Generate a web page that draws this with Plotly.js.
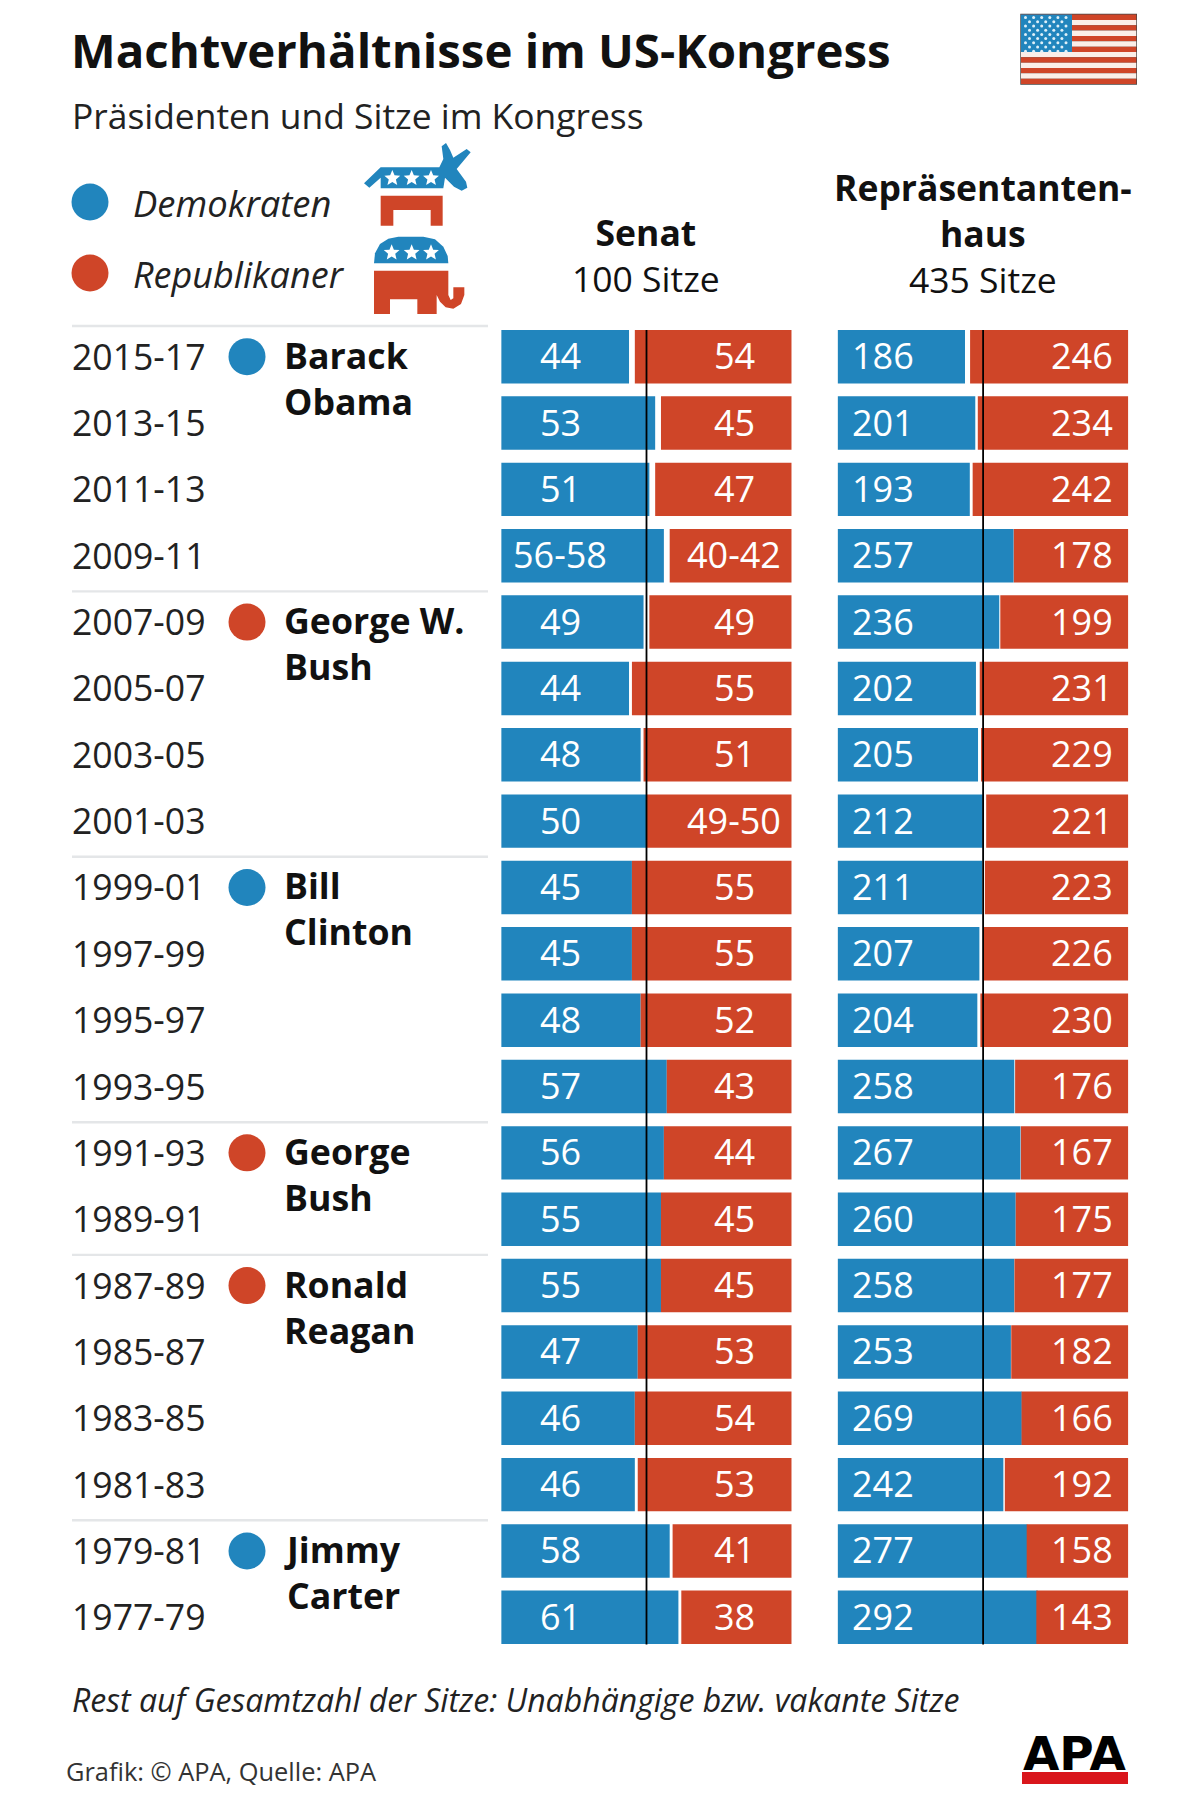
<!DOCTYPE html>
<html><head><meta charset="utf-8">
<script src="https://cdn.plot.ly/plotly-3.0.1.min.js"></script>
<style>html,body{margin:0;padding:0;background:#fff}</style></head>
<body><div id="chart" style="width:1200px;height:1800px"></div>
<script>
// ---------- data ----------
const years = ["2015-17","2013-15","2011-13","2009-11","2007-09","2005-07","2003-05","2001-03","1999-01","1997-99","1995-97","1993-95","1991-93","1989-91","1987-89","1985-87","1983-85","1981-83","1979-81","1977-79"];
const senateDem = [44,53,51,56,49,44,48,50,45,45,48,57,56,55,55,47,46,46,58,61];
const senateRep = [54,45,47,42,49,55,51,50,55,55,52,43,44,45,45,53,54,53,41,38];
const senateDemLabels = ["44","53","51","56-58","49","44","48","50","45","45","48","57","56","55","55","47","46","46","58","61"];
const senateRepLabels = ["54","45","47","40-42","49","55","51","49-50","55","55","52","43","44","45","45","53","54","53","41","38"];
const houseDem = [186,201,193,257,236,202,205,212,211,207,204,258,267,260,258,253,269,242,277,292];
const houseRep = [246,234,242,178,199,231,229,221,223,226,230,176,167,175,177,182,166,192,158,143];
const presidentFirst = ["Barack","George W.","Bill","George","Ronald","Jimmy"];
const presidentLast = ["Obama","Bush","Clinton","Bush","Reagan","Carter"];
const presidentParty = ["D","R","D","R","R","D"];
const presidentStartRow = [0,4,8,12,14,18];

// ---------- style ----------
const BLUE="#2185bd", RED="#cf4528", W=1200, H=1800;
const FONT="'Open Sans', sans-serif";
const px=v=>v/W, py=v=>1-v/H;
const rowTop=323.5, rowStep=66.35;
const rowY=i=>rowTop+rowStep*(i+0.5);

// ---------- traces ----------
const bar=(x,color,xa)=>({type:'bar',orientation:'h',y:years,x:x,xaxis:xa,yaxis:'y',
  width:0.805,marker:{color:color,line:{width:0}},hoverinfo:'skip',showlegend:false});
const dotRows=presidentStartRow.map(r=>years[r]);
const traces=[
  bar(senateDem,BLUE,'x'), bar(senateRep,RED,'x2'),
  bar(houseDem,BLUE,'x3'), bar(houseRep,RED,'x4'),
  {type:'scatter',mode:'markers',xaxis:'x5',yaxis:'y',y:dotRows,x:dotRows.map(()=>247),
   marker:{size:37,color:presidentParty.map(p=>p==='D'?BLUE:RED),line:{width:0}},hoverinfo:'skip',showlegend:false}
];

// ---------- text ----------
const anns=[];
const txt=(text,x,y,size,o={})=>anns.push({text:text,xref:'paper',yref:'paper',x:px(x),y:py(y),
  xanchor:o.anchor||'left',yanchor:'middle',align:o.anchor==='center'?'center':'left',showarrow:false,
  font:{family:o.family||FONT,size:size,color:o.color||'#111',weight:o.weight||400,style:o.style||'normal'}});
txt("Präsidenten und Sitze im Kongress",70,115,35.4,{color:'#222'});
txt("Demokraten",131,203,36.4,{style:'italic',color:'#222'});
txt("Republikaner",131,274,36,{style:'italic',color:'#222'});
txt("<b>Senat</b><br>100 Sitze",646,255,35.5,{anchor:'center',color:'#111'});
txt("<b>Repräsentanten-<br>haus</b><br>435 Sitze",983,233,35.5,{anchor:'center',color:'#111'});
txt("Rest auf Gesamtzahl der Sitze: Unabhängige bzw. vakante Sitze",70,1699,32,{style:'italic',color:'#222'});
txt("Grafik: © APA, Quelle: APA",64,1771,25.4,{color:'#333'});
txt("APA",1075,1753,47,{anchor:'center',family:"'DejaVu Sans', sans-serif",weight:700,color:'#000'});
years.forEach((y,i)=>{
  const c=rowY(i)-1;
  txt(y,70,c,35.6,{color:'#222'});
  txt(senateDemLabels[i],560,c,36,{anchor:'center',color:'#fff'});
  txt(senateRepLabels[i],734,c,36,{anchor:'center',color:'#fff'});
  txt(String(houseDem[i]),850,c,36,{color:'#fff'});
  txt(String(houseRep[i]),1115,c,36,{anchor:'right',color:'#fff'});
});
presidentFirst.forEach((n,k)=>{
  const c=rowY(presidentStartRow[k]);
  txt(n+"<br>"+presidentLast[k],282,c+21,35.7,{weight:700});
});

// ---------- shapes ----------
const shapes=[];
const rect=(x0,y0,x1,y1,color)=>shapes.push({type:'rect',xref:'paper',yref:'paper',x0:px(x0),x1:px(x1),y0:py(y0),y1:py(y1),fillcolor:color,line:{width:0},layer:'above'});
const circ=(cx,cy,r,color)=>shapes.push({type:'circle',xref:'paper',yref:'paper',x0:px(cx-r),x1:px(cx+r),y0:py(cy-r),y1:py(cy+r),fillcolor:color,line:{width:0},layer:'above'});
const poly=(d,color)=>shapes.push({type:'path',xref:'paper',yref:'paper',path:d,fillcolor:color,line:{width:0},layer:'above'});
// converts an icon outline given in local units to paper coordinates
const icon=(cmds,ox,oy,color)=>{
  const d=cmds.map(c=>c[0]+c.slice(1).map((v,j)=>j%2===0?px(ox+v/3):py(oy+v/3)).join(',')).join(' ')+' Z';
  poly(d,color);
};
const star=(cx,cy,r,ox,oy,color)=>{
  const c=[];
  for(let k=0;k<10;k++){const a=-Math.PI/2+k*Math.PI/5,q=k%2?r*0.45:r;c.push([k?'L':'M',cx+q*Math.cos(a),cy+q*Math.sin(a)]);}
  icon(c,ox,oy,color);
};
// separators and mid lines
presidentStartRow.forEach(r=>{const y=rowTop+rowStep*r+2.5;rect(72,y-1.2,488,y+1.2,'#e4e6e8');});
rect(645.6,330,647.4,1644.5,'#000');
rect(982.2,330,984,1644.5,'#000');
// legend
circ(90,202,18.5,BLUE); circ(90,273,18.5,RED);
// flag
rect(1020.3,13.8,1137,84.8,'#444');
const fx0=1021,fx1=1136.3,fy0=14.6,fh=(84-14.6)/13;
for(let s=0;s<13;s++) rect(fx0,fy0+s*fh,fx1,fy0+(s+1)*fh,s%2?'#fbeee8':RED);
rect(fx0,fy0,1072,fy0+7*fh,BLUE);
for(let r=0;r<9;r++){const n=r%2?5:6;for(let c=0;c<n;c++)circ(fx0+4.5+(r%2?4:0)+c*8.1,fy0+3+r*4.2,1.5,'#dff0f8');}
// donkey
icon([['M',42,145],['L',92,97],['L',268,97],['L',280,72],['L',275,34],['L',288,24],['L',300,45],['L',310,68],['L',350,42],['L',362,52],['L',330,90],['L',320,102],['L',348,140],['L',352,158],['L',335,167],['L',312,155],['L',285,128],['L',280,160],['L',92,160],['L',92,128],['L',58,158]],350,135,BLUE);
icon([['M',92,182],['L',278,182],['L',278,272],['L',242,272],['L',242,225],['L',130,225],['L',130,272],['L',92,272]],350,135,RED);
[127,185,243].forEach(x=>star(x,130,25,350,135,'#fff'));
// elephant
icon([['M',57,100],['L',60,70],['L',75,42],['L',100,26],['L',130,20],['L',205,20],['L',240,28],['L',265,50],['L',278,78],['L',280,100]],355,230,BLUE);
icon([['M',57,122],['L',280,122],['L',280,195],['L',287,210],['L',295,205],['L',295,172],['L',328,172],['L',328,195],['L',318,222],['L',295,236],['L',272,232],['L',255,215],['L',245,195],['L',245,252],['L',187,252],['L',187,208],['L',105,208],['L',105,252],['L',57,252]],355,230,RED);
[110,170,228].forEach(x=>star(x,68,25,355,230,'#fff'));
// logo bar
rect(1022,1772,1128,1784,'#d9161c');

// ---------- layout ----------
const hidden={visible:false,fixedrange:true,showgrid:false,zeroline:false};
const layout={
  width:W,height:H,margin:{l:0,r:0,t:0,b:0},paper_bgcolor:'#fff',plot_bgcolor:'rgba(0,0,0,0)',
  barmode:'overlay',showlegend:false,
  title:{text:"Machtverhältnisse im US-Kongress",x:px(71),xanchor:'left',y:py(51),yanchor:'middle',xref:'paper',yref:'paper',
         font:{family:FONT,size:47.4,weight:700,color:'#111'}},
  xaxis:Object.assign({},hidden,{domain:[px(501.2),px(791.7)],range:[0,100],anchor:'y'}),
  xaxis2:Object.assign({},hidden,{overlaying:'x',range:[100,0],anchor:'y'}),
  xaxis3:Object.assign({},hidden,{domain:[px(837.6),px(1128.3)],range:[0,424.4],anchor:'y'}),
  xaxis4:Object.assign({},hidden,{overlaying:'x3',range:[452,0],anchor:'y'}),
  xaxis5:Object.assign({},hidden,{domain:[0,1],range:[0,W],anchor:'y'}),
  yaxis:Object.assign({},hidden,{type:'category',categoryorder:'array',categoryarray:years,
         domain:[py(rowTop+rowStep*20),py(rowTop)],range:[19.5,-0.5],anchor:'x'}),
  annotations:anns,shapes:shapes
};
Plotly.newPlot('chart',traces,layout,{staticPlot:true,displayModeBar:false});
</script></body></html>
